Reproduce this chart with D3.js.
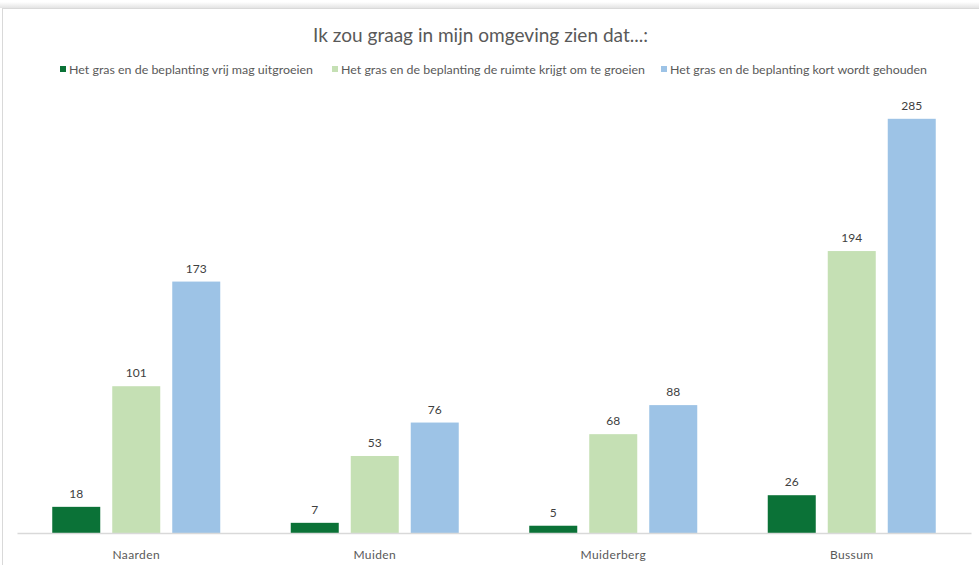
<!DOCTYPE html>
<html>
<head>
<meta charset="utf-8">
<script src="https://cdn.jsdelivr.net/npm/d3@7"></script>
<style>
  html, body { margin: 0; padding: 0; background: #ffffff; }
  svg { display: block; }
  text { font-family: Lato, "Open Sans", "Noto Sans", sans-serif; }
</style>
</head>
<body>
<div id="chart"></div>
<script>
const title = "Ik zou graag in mijn omgeving zien dat...:";
const categories = ["Naarden", "Muiden", "Muiderberg", "Bussum"];
const seriesNames = [
  "Het gras en de beplanting vrij mag uitgroeien",
  "Het gras en de beplanting de ruimte krijgt om te groeien",
  "Het gras en de beplanting kort wordt gehouden"
];
const seriesColors = ["#0b7237", "#c5e0b4", "#9dc3e6"];
const vrijValues = [18, 7, 5, 26];
const ruimteValues = [101, 53, 68, 194];
const kortValues = [173, 76, 88, 285];
const seriesValues = [vrijValues, ruimteValues, kortValues];

const W = 979, H = 565;
const svg = d3.select("#chart").append("svg").attr("width", W).attr("height", H);

// frame with slight shadow on top
const defs = svg.append("defs");
const grad = defs.append("linearGradient").attr("id", "sh").attr("x1", 0).attr("y1", 0).attr("x2", 0).attr("y2", 1);
grad.append("stop").attr("offset", "0%").attr("stop-color", "#ffffff");
grad.append("stop").attr("offset", "100%").attr("stop-color", "#e4e4e4");
svg.append("rect").attr("x", 0).attr("y", 2).attr("width", W).attr("height", 6).attr("fill", "url(#sh)");
svg.append("rect").attr("x", 2.5).attr("y", 8.5).attr("width", W + 10).attr("height", H + 10)
  .attr("fill", "#ffffff").attr("stroke", "#d9d9d9").attr("stroke-width", 1);

const x0 = d3.scaleBand().domain(categories).range([17, 971]).paddingInner(0).paddingOuter(0);
const groupW = 168;
const x1 = d3.scaleBand().domain(d3.range(seriesNames.length)).range([0, groupW]).paddingInner(0.2).paddingOuter(0);
const y = d3.scaleLinear().domain([0, 300]).range([533, 97]);

// title
svg.append("text").attr("x", 480.5).attr("y", 42).attr("text-anchor", "middle")
  .attr("font-size", 20).attr("fill", "#595959")
  .attr("textLength", 335).attr("lengthAdjust", "spacingAndGlyphs")
  .text(title);

// legend
const legendX = [60, 332, 661];
const legendW = [244, 304, 257];
const leg = svg.append("g");
seriesNames.forEach((name, i) => {
  leg.append("rect").attr("x", legendX[i]).attr("y", 66).attr("width", 6).attr("height", 6).attr("fill", seriesColors[i]);
  leg.append("text").attr("x", legendX[i] + 9).attr("y", 73.5).attr("font-size", 11).attr("fill", "#595959")
    .attr("textLength", legendW[i]).attr("lengthAdjust", "spacingAndGlyphs").text(name);
});

// bars
const groups = svg.append("g").selectAll("g").data(categories).join("g")
  .attr("transform", d => `translate(${x0(d) + (x0.bandwidth() - groupW) / 2},0)`);

groups.each(function(cat, ci) {
  const g = d3.select(this);
  seriesValues.forEach((vals, si) => {
    const v = vals[ci];
    g.append("rect").attr("x", x1(si)).attr("y", y(v)).attr("width", x1.bandwidth())
      .attr("height", y(0) - y(v)).attr("fill", seriesColors[si]);
    g.append("text").attr("x", x1(si) + x1.bandwidth() / 2).attr("y", y(v) - 9)
      .attr("text-anchor", "middle").attr("font-size", 12).attr("fill", "#404040").text(v);
  });
});

// x axis
const xAxis = svg.append("g").attr("transform", `translate(0,${y(0)})`)
  .call(d3.axisBottom(x0).tickSize(0).tickPadding(17));
xAxis.select(".domain").attr("stroke", "#d9d9d9").attr("stroke-width", 1.5);
xAxis.selectAll("text").attr("font-size", 12).attr("fill", "#595959")
  .attr("letter-spacing", 0.4)
  .style("font-family", "Lato, 'Open Sans', sans-serif");
</script>
</body>
</html>
